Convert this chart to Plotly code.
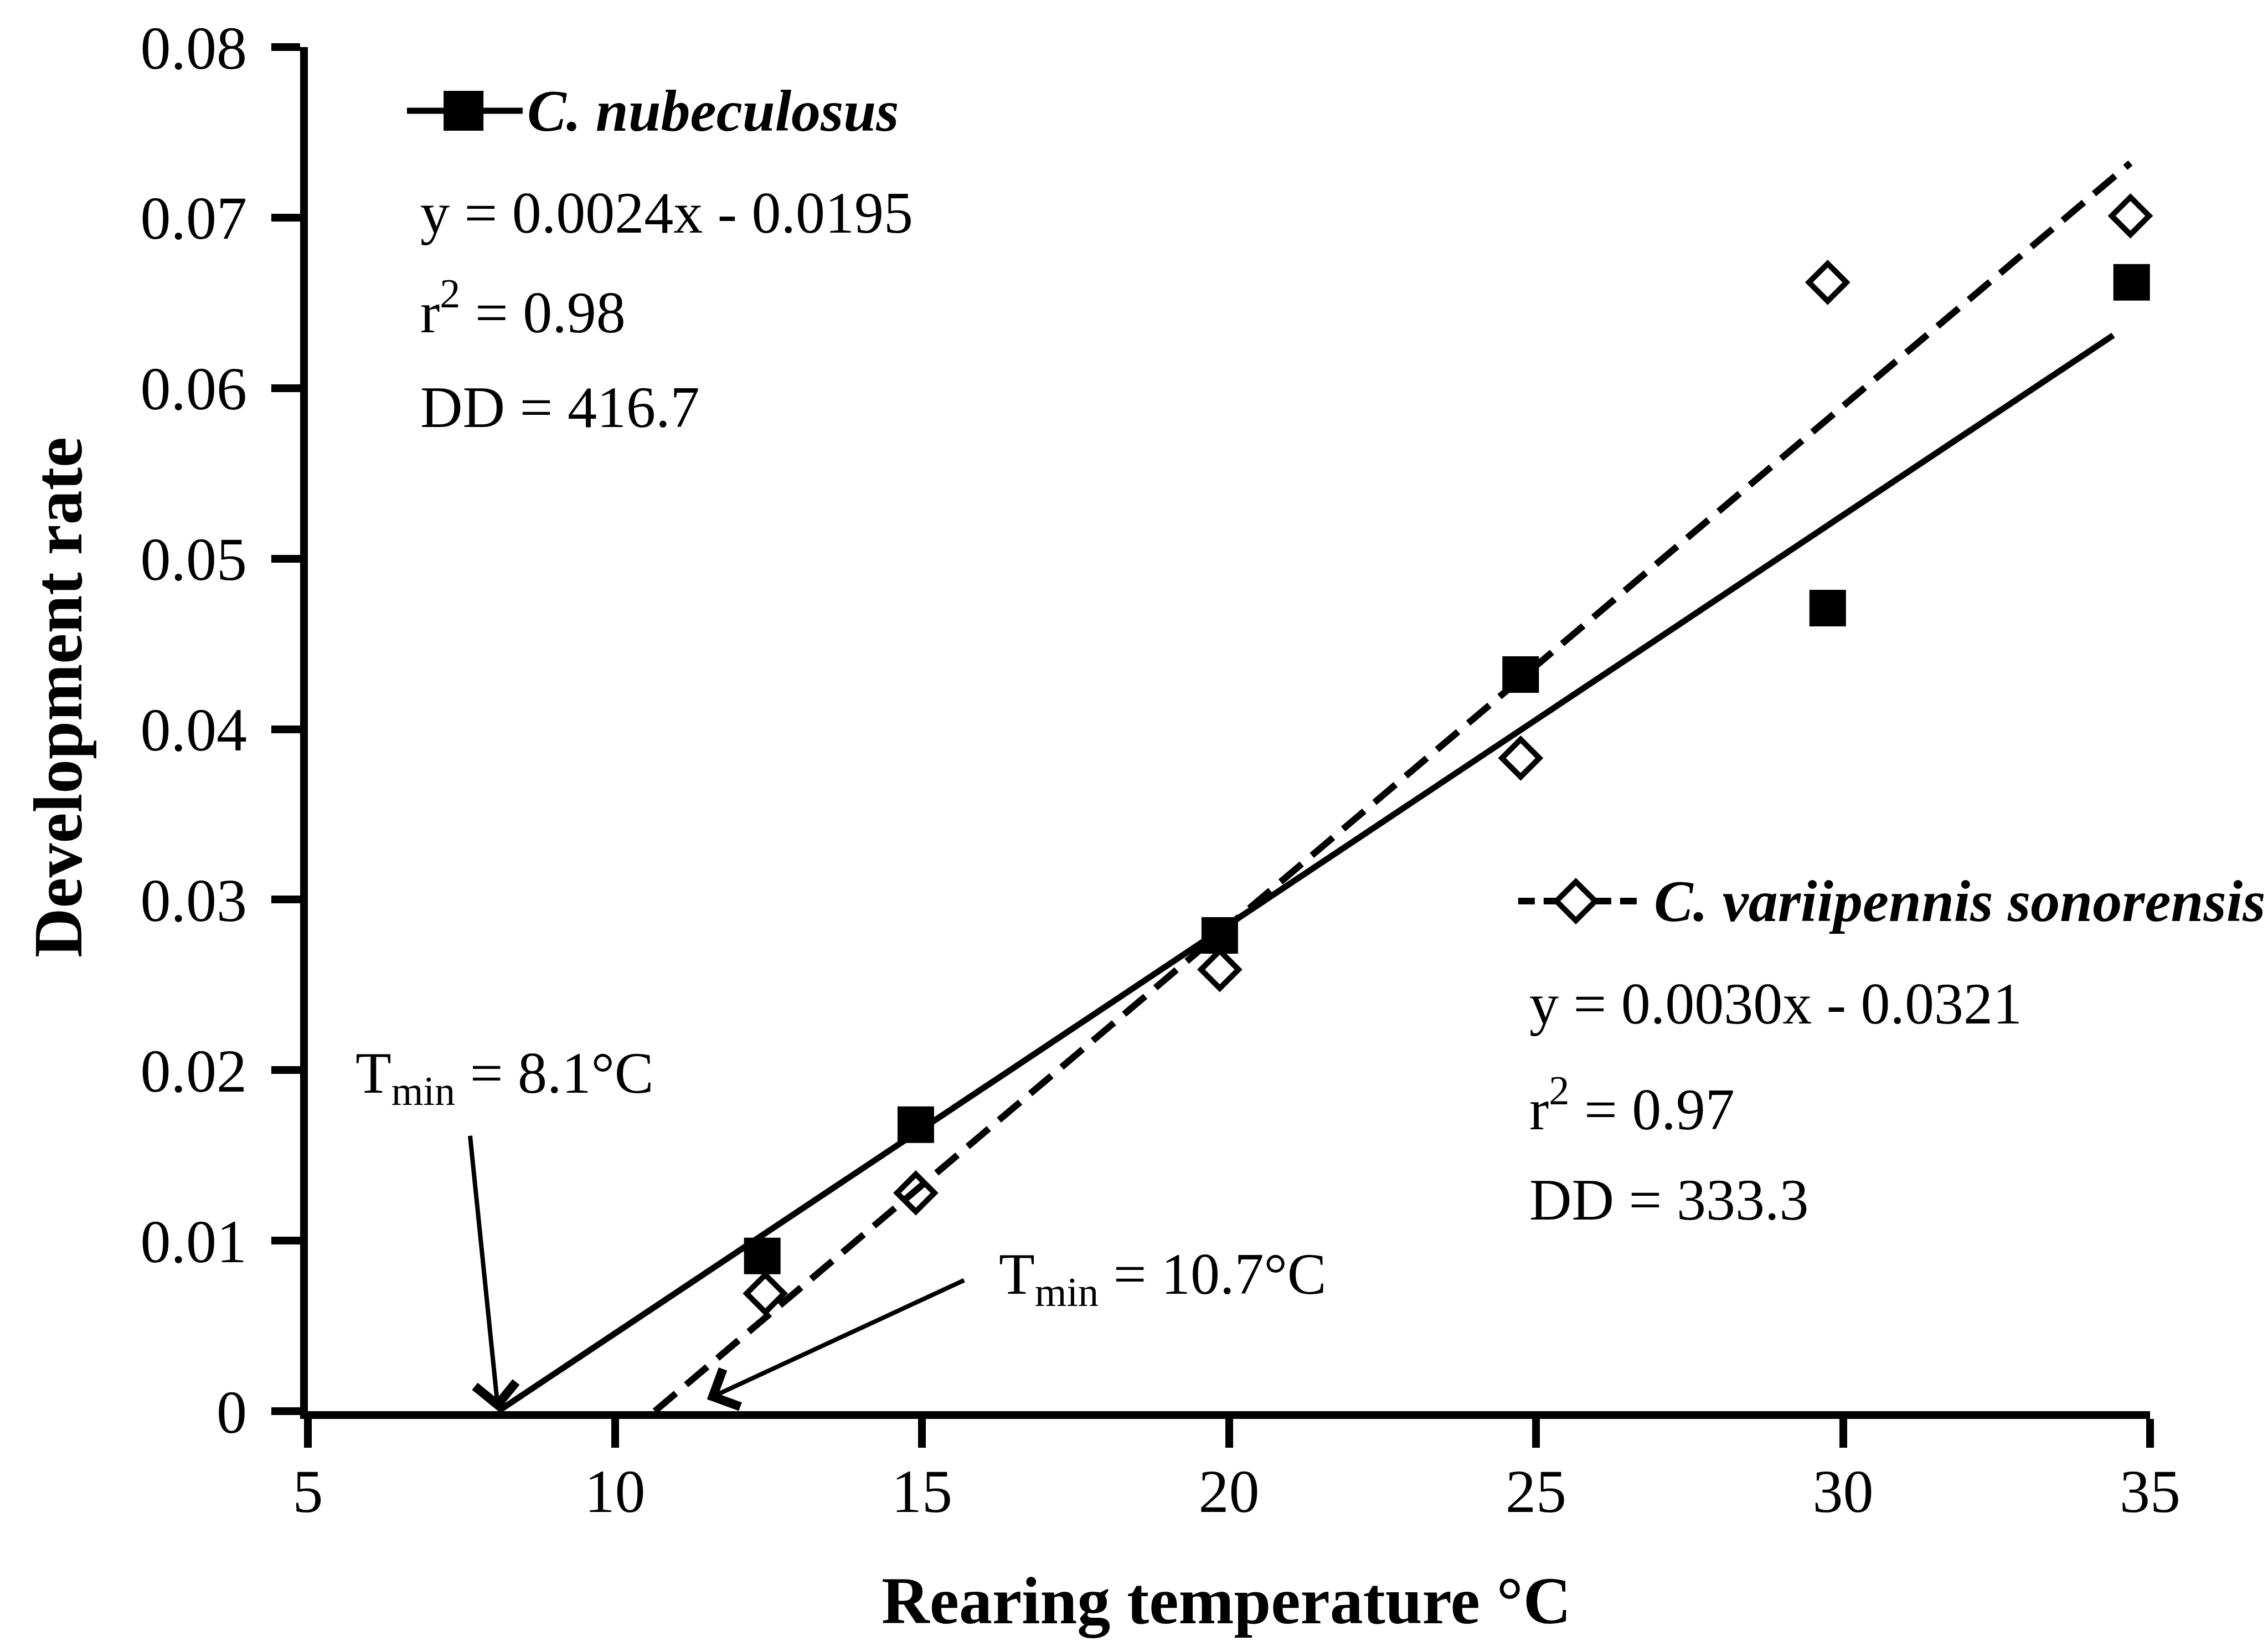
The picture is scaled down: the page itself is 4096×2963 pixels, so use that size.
import plotly.graph_objects as go

# ---- data ----
temp_nub = [12.4, 14.9, 19.85, 24.75, 29.75, 34.7]
rate_nub = [0.0091, 0.0168, 0.0279, 0.0432, 0.0471, 0.0662]
temp_var = [12.45, 14.9, 19.85, 24.75, 29.75, 34.68]
rate_var = [0.0069, 0.0128, 0.0259, 0.0383, 0.0662, 0.0701]

fit_nub_x = [8.1, 34.4]
fit_nub_y = [0.0, 0.0631]
fit_var_x = [10.65, 34.68]
fit_var_y = [0.0, 0.0732]

x_ticks = [5, 10, 15, 20, 25, 30, 35]
y_ticks = [0, 0.01, 0.02, 0.03, 0.04, 0.05, 0.06, 0.07, 0.08]
y_tick_text = ["0", "0.01", "0.02", "0.03", "0.04", "0.05", "0.06", "0.07", "0.08"]

name_nub = "C. nubeculosus"
name_var = "C. variipennis sonorensis"
eq_nub = ["y = 0.0024x - 0.0195", "r<sup>2</sup> = 0.98", "DD = 416.7"]
eq_var = ["y = 0.0030x - 0.0321", "r<sup>2</sup> = 0.97", "DD = 333.3"]
tmin_nub = "T<sub>min</sub> = 8.1°C"
tmin_var = "T<sub>min</sub> = 10.7°C"

FONT = "Liberation Serif, Times New Roman, serif"
W, H = 4096, 2963
ML, MR, MT, MB = 556, 213, 85, 415

fig = go.Figure()

# regression lines
fig.add_trace(go.Scatter(x=fit_nub_x, y=fit_nub_y, mode="lines",
                         line=dict(color="black", width=11), showlegend=False,
                         hoverinfo="skip", cliponaxis=False))
fig.add_trace(go.Scatter(x=fit_var_x, y=fit_var_y, mode="lines",
                         line=dict(color="black", width=12, dash="50px,24px"),
                         showlegend=False, hoverinfo="skip", cliponaxis=False))
# observations
fig.add_trace(go.Scatter(x=temp_nub, y=rate_nub, mode="markers", name=name_nub,
                         marker=dict(symbol="square", size=64, color="black", opacity=1,
                                     line=dict(color="black", width=2)),
                         showlegend=False, cliponaxis=False))
fig.add_trace(go.Scatter(x=temp_var, y=rate_var, mode="markers", name=name_var,
                         marker=dict(symbol="diamond-open", size=52, color="black", opacity=1,
                                     line=dict(color="black", width=10)),
                         showlegend=False, cliponaxis=False))

# legend keys drawn on a hidden overlay axis (paper-like 0..1 coordinates)
key1_x = [0.0538, 0.1166]
key1_y = [0.9533, 0.9533]
key2_x = [0.6570, 0.7235]
key2_y = [0.3739, 0.3739]
fig.add_trace(go.Scatter(x=key1_x, y=key1_y, mode="lines", xaxis="x2", yaxis="y2",
                         line=dict(color="black", width=11),
                         showlegend=False, hoverinfo="skip", cliponaxis=False))
fig.add_trace(go.Scatter(x=[0.0845], y=[0.9533], mode="markers", xaxis="x2", yaxis="y2",
                         marker=dict(symbol="square", size=70, color="black", opacity=1,
                                     line=dict(color="black", width=2)),
                         showlegend=False, hoverinfo="skip", cliponaxis=False))
fig.add_trace(go.Scatter(x=key2_x, y=key2_y, mode="lines", xaxis="x2", yaxis="y2",
                         line=dict(color="black", width=12, dash="30px,16px"),
                         showlegend=False, hoverinfo="skip", cliponaxis=False))
fig.add_trace(go.Scatter(x=[0.6883], y=[0.3739], mode="markers", xaxis="x2", yaxis="y2",
                         marker=dict(symbol="diamond", size=54, color="white", opacity=1,
                                     line=dict(color="black", width=10)),
                         showlegend=False, hoverinfo="skip", cliponaxis=False))

ann = []
def txt(text, x, y, size=106, xanchor="left", yanchor="middle", textangle=0):
    ann.append(dict(text=text, x=x, y=y, xref="paper", yref="paper",
                    xanchor=xanchor, yanchor=yanchor, showarrow=False,
                    textangle=textangle,
                    font=dict(family=FONT, size=size, color="black")))

txt("<b><i>" + name_nub + "</i></b>", 0.1184, 0.9533, size=106)
for t, yy in zip(eq_nub, [0.8786, 0.8088, 0.7357]):
    txt(t, 0.0604, yy)
txt("<b><i>" + name_var + "</i></b>", 0.7301, 0.3739, size=106)
for t, yy in zip(eq_var, [0.2988, 0.2245, 0.1547]):
    txt(t, 0.6625, yy)
txt(tmin_nub, 0.0252, 0.2448)
txt(tmin_var, 0.3745, 0.0974)

# axis titles
txt("<b>Rearing temperature °C</b>", 0.4985, -0.1673, size=120, xanchor="center",
    yanchor="bottom")
txt("<b>Development rate</b>", -0.1356, 0.5233, size=124, xanchor="center", textangle=-90)

# arrows to the thresholds
for (tx, ty, sx, sy) in [(8.1, 0.0, 7.64, 0.0162), (11.5, 0.0007, 15.7, 0.0077)]:
    ann.append(dict(x=tx, y=ty, ax=sx, ay=sy, xref="x", yref="y", axref="x", ayref="y",
                    text="", showarrow=True, arrowhead=4, arrowsize=1.8,
                    arrowwidth=8, arrowcolor="black", standoff=0))

axis_common = dict(showline=True, linewidth=14, linecolor="black", mirror=False,
                   ticks="outside", ticklen=52, tickwidth=14, tickcolor="black",
                   showgrid=False, zeroline=False,
                   tickfont=dict(family=FONT, size=110, color="black"))

fig.update_layout(
    width=W, height=H,
    margin=dict(l=ML, r=MR, t=MT, b=MB, autoexpand=False),
    paper_bgcolor="white", plot_bgcolor="white",
    showlegend=False,
    xaxis=dict(range=[5, 35], tickvals=x_ticks, ticklabelstandoff=-16, **axis_common),
    yaxis=dict(range=[0, 0.08], tickvals=y_ticks, ticktext=y_tick_text,
               ticklabelstandoff=22, **axis_common),
    xaxis2=dict(domain=[0, 1], range=[0, 1], overlaying="x", visible=False, anchor="y2"),
    yaxis2=dict(domain=[0, 1], range=[0, 1], overlaying="y", visible=False, anchor="x2"),
    annotations=ann,
)

fig.write_html("out.html")
